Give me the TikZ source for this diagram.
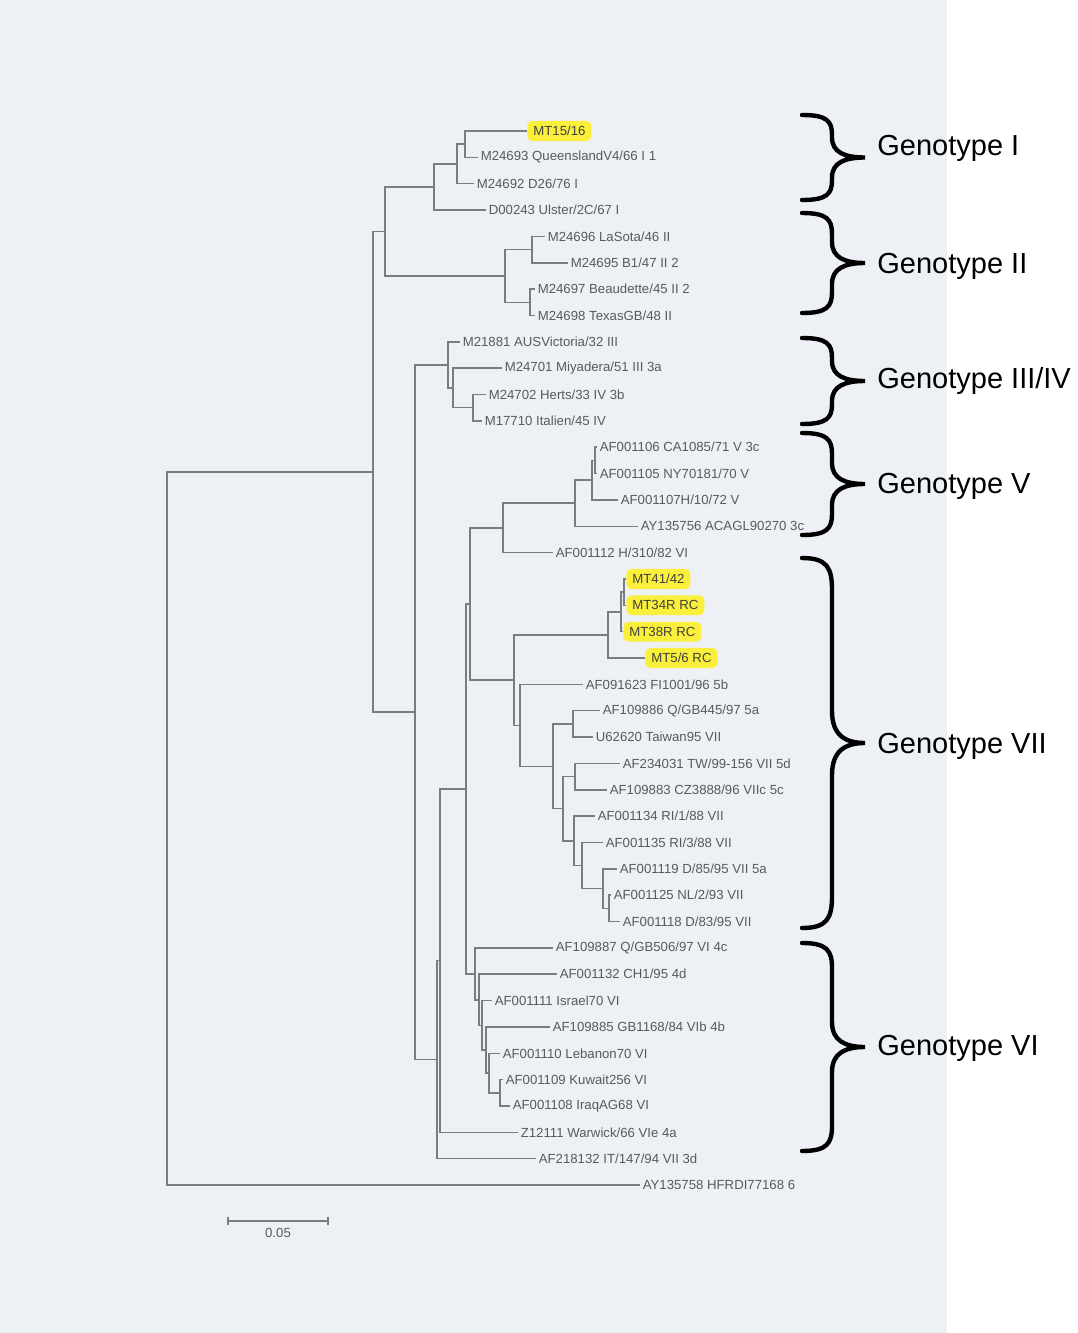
\documentclass[tikz,border=0pt]{standalone}
\usepackage{fontspec}
\setmainfont{Liberation Sans}

\definecolor{scan}{RGB}{237,240,245}
\definecolor{ink}{RGB}{122,124,130}
\definecolor{lbl}{RGB}{88,90,96}
\definecolor{hl}{RGB}{250,240,60}

\newcommand{\gbrace}[3]{%
  \pgfmathsetmacro{\brmid}{(#1+#2)/2}%
  \draw[gbrace] (802,#1) .. controls (827,#1) and (832,#1+0.3*#3) .. (832,#1+#3)
    -- (832,\brmid-#3) .. controls (832,\brmid-0.25*#3) and (845,\brmid) .. (865,\brmid)
    .. controls (845,\brmid) and (832,\brmid+0.25*#3) .. (832,\brmid+#3)
    -- (832,#2-#3) .. controls (832,#2-0.3*#3) and (827,#2) .. (802,#2);}

\begin{document}
\begin{tikzpicture}[x=0.5pt,y=-0.5pt,
    branch/.style={draw=ink,line width=0.75pt},
    leaf/.style={anchor=west,inner xsep=1.2pt,inner ysep=0.5pt,text=lbl,font=\fontsize{6.6}{7}\selectfont},
    mt/.style={leaf,fill=hl,text=black!75,rounded corners=2.5pt,inner xsep=3pt,inner ysep=2.6pt},
    gbrace/.style={draw=black,line width=2.2pt,line cap=round},
    glabel/.style={anchor=west,inner sep=0pt,font=\fontsize{14.5}{17}\selectfont}]
			\useasboundingbox (0,0) rectangle (1077,1333);
			\fill[white] (0,0) rectangle (1077,1333);
			\fill[scan] (0,0) rectangle (947,1333);

			% leaves
			\node[mt] (l1) at (527,131) {MT15/16};
			\node[leaf] (l2) at (478,157.4) {M24693 QueenslandV4/66 I 1};
			\node[leaf] (l3) at (474,183.7) {M24692 D26/76 I};
			\node[leaf] (l4) at (486,210.1) {D00243 Ulster/2C/67 I};
			\node[leaf] (l5) at (545,236.4) {M24696 LaSota/46 II};
			\node[leaf] (l6) at (568,262.8) {M24695 B1/47 II 2};
			\node[leaf] (l7) at (535,289.1) {M24697 Beaudette/45 II 2};
			\node[leaf] (l8) at (535,315.5) {M24698 TexasGB/48 II};
			\node[leaf] (l9) at (460,341.8) {M21881 AUSVictoria/32 III};
			\node[leaf] (l10) at (502,368.2) {M24701 Miyadera/51 III 3a};
			\node[leaf] (l11) at (486,394.5) {M24702 Herts/33 IV 3b};
			\node[leaf] (l12) at (482,420.9) {M17710 Italien/45 IV};
			\node[leaf] (l13) at (597,447.2) {AF001106 CA1085/71 V 3c};
			\node[leaf] (l14) at (597,473.6) {AF001105 NY70181/70 V};
			\node[leaf] (l15) at (618,499.9) {AF001107H/10/72 V};
			\node[leaf] (l16) at (638,526.3) {AY135756 ACAGL90270 3c};
			\node[leaf] (l17) at (553,552.6) {AF001112 H/310/82 VI};
			\node[mt] (l18) at (626,579) {MT41/42};
			\node[mt] (l19) at (626,605.3) {MT34R RC};
			\node[mt] (l20) at (623,631.7) {MT38R RC};
			\node[mt] (l21) at (645,658) {MT5/6 RC};
			\node[leaf] (l22) at (583,684.4) {AF091623 FI1001/96 5b};
			\node[leaf] (l23) at (600,710.7) {AF109886 Q/GB445/97 5a};
			\node[leaf] (l24) at (593,737.1) {U62620 Taiwan95 VII};
			\node[leaf] (l25) at (620,763.4) {AF234031 TW/99-156 VII 5d};
			\node[leaf] (l26) at (607,789.8) {AF109883 CZ3888/96 VIIc 5c};
			\node[leaf] (l27) at (595,816.1) {AF001134 RI/1/88 VII};
			\node[leaf] (l28) at (603,842.5) {AF001135 RI/3/88 VII};
			\node[leaf] (l29) at (617,868.8) {AF001119 D/85/95 VII 5a};
			\node[leaf] (l30) at (611,895.2) {AF001125 NL/2/93 VII};
			\node[leaf] (l31) at (620,921.5) {AF001118 D/83/95 VII};
			\node[leaf] (l32) at (553,947.9) {AF109887 Q/GB506/97 VI 4c};
			\node[leaf] (l33) at (557,974.2) {AF001132 CH1/95 4d};
			\node[leaf] (l34) at (492,1000.6) {AF001111 Israel70 VI};
			\node[leaf] (l35) at (550,1026.9) {AF109885 GB1168/84 VIb 4b};
			\node[leaf] (l36) at (500,1053.3) {AF001110 Lebanon70 VI};
			\node[leaf] (l37) at (503,1079.6) {AF001109 Kuwait256 VI};
			\node[leaf] (l38) at (510,1106) {AF001108 IraqAG68 VI};
			\node[leaf] (l39) at (518,1132.3) {Z12111 Warwick/66 VIe 4a};
			\node[leaf] (l40) at (536,1158.7) {AF218132 IT/147/94 VII 3d};
			\node[leaf] (l41) at (640,1185) {AY135758 HFRDI77168 6};

			% internal nodes
			\coordinate (root) at (167,828.5);
			\coordinate (nA) at (373,471.9);
			\coordinate (nIandII) at (385,231.5);
			\coordinate (nI) at (434,187);
			\coordinate (nI1) at (457,164);
			\coordinate (nI2) at (465,144.2);
			\coordinate (nII) at (505,276);
			\coordinate (nII1) at (532,249.6);
			\coordinate (nII2) at (530,302.3);
			\coordinate (nB) at (415,712.2);
			\coordinate (nIII) at (448,365);
			\coordinate (nIII1) at (453,388);
			\coordinate (nIV) at (473,407.7);
			\coordinate (nE) at (437,1059.6);
			\coordinate (nE2) at (440,960.6);
			\coordinate (nF) at (466,788.9);
			\coordinate (nD) at (470,604);
			\coordinate (nV) at (503,527.9);
			\coordinate (nV1) at (575,503.2);
			\coordinate (nV2) at (592,480.1);
			\coordinate (nV3) at (595,460.4);
			\coordinate (nVII) at (514,680.2);
			\coordinate (nMT1) at (608,635);
			\coordinate (nMT2) at (621,611.9);
			\coordinate (nMT3) at (624,592.1);
			\coordinate (nVIIb) at (520,725.3);
			\coordinate (nVIIc) at (553,766.3);
			\coordinate (nVIIa) at (573,723.9);
			\coordinate (nVIIe) at (563,808.7);
			\coordinate (nVIId) at (575,776.6);
			\coordinate (nVIIf) at (574,840.8);
			\coordinate (nVIIg) at (582,865.5);
			\coordinate (nVIIh) at (603,888.6);
			\coordinate (nVIIi) at (609,908.3);
			\coordinate (nVI) at (475,973.8);
			\coordinate (nVIe) at (479,999.8);
			\coordinate (nVId) at (482,1025.3);
			\coordinate (nVIc) at (486,1050);
			\coordinate (nVIb) at (489,1073);
			\coordinate (nVIa) at (500,1092.8);

			% branches
			\draw[branch] (root) |- (nA) (root) |- (l41.west);
			\draw[branch] (nA) |- (nIandII) (nA) |- (nB);
			\draw[branch] (nIandII) |- (nI) (nIandII) |- (nII);
			\draw[branch] (nI) |- (nI1) (nI) |- (l4.west);
			\draw[branch] (nI1) |- (nI2) (nI1) |- (l3.west);
			\draw[branch] (nI2) |- (l1.west) (nI2) |- (l2.west);
			\draw[branch] (nII) |- (nII1) (nII) |- (nII2);
			\draw[branch] (nII1) |- (l5.west) (nII1) |- (l6.west);
			\draw[branch] (nII2) |- (l7.west) (nII2) |- (l8.west);
			\draw[branch] (nB) |- (nIII) (nB) |- (nE);
			\draw[branch] (nIII) |- (l9.west) (nIII) |- (nIII1);
			\draw[branch] (nIII1) |- (l10.west) (nIII1) |- (nIV);
			\draw[branch] (nIV) |- (l11.west) (nIV) |- (l12.west);
			\draw[branch] (nE) |- (nE2) (nE) |- (l40.west);
			\draw[branch] (nE2) |- (nF) (nE2) |- (l39.west);
			\draw[branch] (nF) |- (nD) (nF) |- (nVI);
			\draw[branch] (nD) |- (nV) (nD) |- (nVII);
			\draw[branch] (nV) |- (nV1) (nV) |- (l17.west);
			\draw[branch] (nV1) |- (nV2) (nV1) |- (l16.west);
			\draw[branch] (nV2) |- (nV3) (nV2) |- (l15.west);
			\draw[branch] (nV3) |- (l13.west) (nV3) |- (l14.west);
			\draw[branch] (nVII) |- (nMT1) (nVII) |- (nVIIb);
			\draw[branch] (nMT1) |- (nMT2) (nMT1) |- (l21.west);
			\draw[branch] (nMT2) |- (nMT3) (nMT2) |- (l20.west);
			\draw[branch] (nMT3) |- (l18.west) (nMT3) |- (l19.west);
			\draw[branch] (nVIIb) |- (l22.west) (nVIIb) |- (nVIIc);
			\draw[branch] (nVIIc) |- (nVIIa) (nVIIc) |- (nVIIe);
			\draw[branch] (nVIIa) |- (l23.west) (nVIIa) |- (l24.west);
			\draw[branch] (nVIIe) |- (nVIId) (nVIIe) |- (nVIIf);
			\draw[branch] (nVIId) |- (l25.west) (nVIId) |- (l26.west);
			\draw[branch] (nVIIf) |- (l27.west) (nVIIf) |- (nVIIg);
			\draw[branch] (nVIIg) |- (l28.west) (nVIIg) |- (nVIIh);
			\draw[branch] (nVIIh) |- (l29.west) (nVIIh) |- (nVIIi);
			\draw[branch] (nVIIi) |- (l30.west) (nVIIi) |- (l31.west);
			\draw[branch] (nVI) |- (l32.west) (nVI) |- (nVIe);
			\draw[branch] (nVIe) |- (l33.west) (nVIe) |- (nVId);
			\draw[branch] (nVId) |- (l34.west) (nVId) |- (nVIc);
			\draw[branch] (nVIc) |- (l35.west) (nVIc) |- (nVIb);
			\draw[branch] (nVIb) |- (l36.west) (nVIb) |- (nVIa);
			\draw[branch] (nVIa) |- (l37.west) (nVIa) |- (l38.west);

			% scale bar
			\coordinate (sb1) at (228,1221);
			\coordinate (sb2) at (328,1221);
			\draw[branch] (sb1) -- (sb2) (sb1) ++(0,-4) -- ++(0,8) (sb2) ++(0,-4) -- ++(0,8);
			\node[leaf,anchor=north] (sblabel) at (278,1227) {0.05};

			% genotype braces
			\gbrace{115}{200}{20}
			\gbrace{213}{313}{21}
			\gbrace{338}{424}{20}
			\gbrace{433}{535}{21}
			\gbrace{558}{928}{32}
			\gbrace{943}{1151}{25}
			\node[glabel] (gI) at (877,148) {Genotype I};
			\node[glabel] (gII) at (877,266) {Genotype II};
			\node[glabel] (gIII) at (877,381) {Genotype III/IV};
			\node[glabel] (gV) at (877,486) {Genotype V};
			\node[glabel] (gVII) at (877,746) {Genotype VII};
			\node[glabel] (gVI) at (877,1048) {Genotype VI};
		\end{tikzpicture}
\end{document}
